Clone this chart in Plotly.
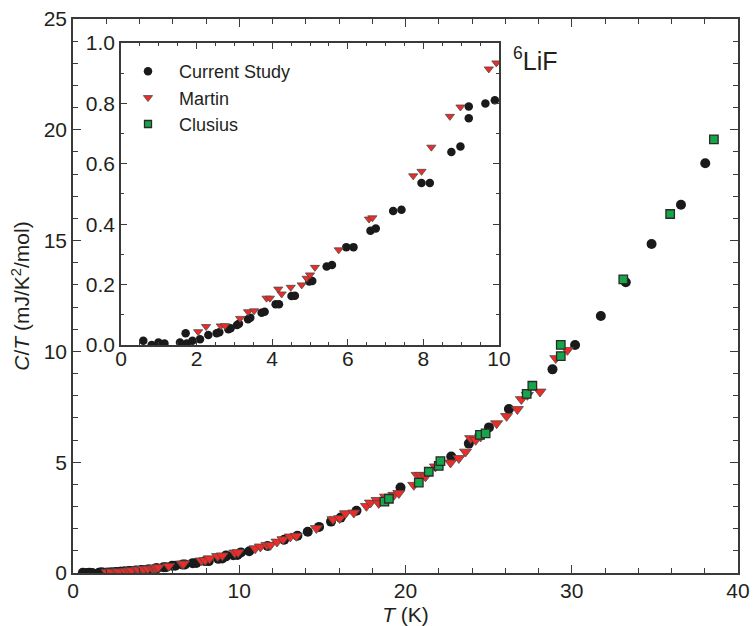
import numpy as np
import plotly.graph_objects as go

# ---- data: C/T (mJ/K^2/mol) versus T (K) for 6LiF ----
cur_T = [0.59, 0.81, 0.99, 1.15, 1.56, 1.71, 1.74, 1.89, 2.09, 2.31, 2.53, 2.60,
         2.84, 2.90, 3.07, 3.12, 3.36, 3.42, 3.72, 3.80, 4.09, 4.18, 4.51, 4.60,
         4.98, 5.06, 5.44, 5.58, 5.96, 6.15, 6.60, 6.74, 7.20, 7.42, 7.95, 8.17,
         8.74, 8.98, 9.20, 9.20, 9.64, 9.89,
         10.10, 10.60, 11.70, 12.70, 13.50, 14.12, 14.80, 15.52, 16.10, 17.05,
         19.70, 22.75, 23.81, 25.02, 26.22, 28.84, 30.20, 31.75, 33.25, 34.80,
         36.57, 38.03]
cur_C = [0.014, 0.000, 0.008, 0.005, 0.008, 0.039, 0.005, 0.014, 0.019, 0.033, 0.039, 0.042,
         0.052, 0.055, 0.066, 0.070, 0.085, 0.090, 0.107, 0.110, 0.135, 0.135, 0.162, 0.163,
         0.210, 0.212, 0.260, 0.265, 0.324, 0.324, 0.378, 0.386, 0.444, 0.448, 0.536, 0.536,
         0.639, 0.657, 0.790, 0.751, 0.800, 0.810,
         0.93, 0.98, 1.22, 1.50, 1.68, 1.86, 2.08, 2.32, 2.50, 2.81,
         3.86, 5.26, 5.84, 6.57, 7.40, 9.19, 10.29, 11.60, 13.12, 14.85,
         16.62, 18.49]

martin_T = [2.04, 2.25, 2.64, 2.75, 3.15, 3.36, 3.52, 3.85, 3.94, 4.16, 4.25, 4.49,
            4.78, 4.91, 5.00, 5.13, 5.76, 6.56, 6.65, 7.73, 7.95, 8.21, 8.70, 8.98,
            9.73, 9.93,
            10.96, 11.27, 11.67, 11.87, 12.27, 12.63, 13.07, 13.43, 14.64, 15.64,
            16.04, 16.39, 16.89, 17.65, 17.89, 18.29, 18.39, 18.80, 19.30, 19.60,
            20.50, 20.70, 20.90, 21.20, 21.80, 22.71, 23.21, 23.61, 23.92, 24.22,
            24.52, 25.48, 26.08, 26.73, 26.97, 27.33, 28.09, 29.04, 29.74]
martin_C = [0.044, 0.061, 0.063, 0.064, 0.088, 0.110, 0.113, 0.155, 0.155, 0.185, 0.169, 0.191,
            0.199, 0.221, 0.232, 0.257, 0.315, 0.417, 0.421, 0.560, 0.575, 0.655, 0.757, 0.788,
            0.914, 0.934,
            1.11, 1.19, 1.26, 1.26, 1.41, 1.52, 1.64, 1.67, 2.02, 2.42,
            2.47, 2.69, 2.72, 3.02, 3.17, 3.29, 3.15, 3.44, 3.52, 3.60,
            3.97, 4.42, 4.42, 4.35, 4.80, 4.98, 5.18, 5.47, 6.08, 6.00,
            6.15, 6.75, 7.08, 7.39, 7.84, 8.03, 8.18, 9.69, 10.06]

clusius_T = [18.73, 19.00, 20.80, 21.40, 22.00, 22.10, 24.48, 24.82, 27.29, 27.63,
             29.34, 29.34, 33.10, 35.92, 38.55]
clusius_C = [3.22, 3.35, 4.08, 4.57, 4.83, 5.05, 6.23, 6.30, 8.08, 8.45,
             9.79, 10.29, 13.25, 16.20, 19.57]

series_names = ["Current Study", "Martin", "Clusius"]

FONT = "Liberation Sans, Arial, sans-serif"
INK = "#231f20"
RED = "#ee2b26"
GREEN = "#17a54a"
BLACK = "#1a1a1a"


def low_T(T, C, limit=10.0):
    T = np.asarray(T)
    C = np.asarray(C)
    keep = T <= limit
    return T[keep], C[keep]


styles = [
    dict(symbol="circle", color=BLACK, line=dict(width=0)),
    dict(symbol="triangle-down", color=RED, line=dict(width=0.8, color="#4a4a4a")),
    dict(symbol="square", color=GREEN, line=dict(width=1.3, color="#2a2a2a")),
]
main_sizes = [10, 10.5, 8.5]
inset_sizes = [8.5, 8, 7]
datasets = [(cur_T, cur_C), (martin_T, martin_C), (clusius_T, clusius_C)]

fig = go.Figure()

# full temperature range on the main axes
for name, (T, C), st, sz in zip(series_names, datasets, styles, main_sizes):
    fig.add_trace(go.Scatter(
        x=T, y=C, mode="markers", name=name, showlegend=False,
        marker=dict(size=sz, **st), xaxis="x", yaxis="y"))

# low-temperature detail on the inset axes (carries the legend)
for name, (T, C), st, sz in zip(series_names, datasets, styles, inset_sizes):
    t, c = low_T(T, C)
    if len(t) == 0:
        t, c = [None], [None]
    fig.add_trace(go.Scatter(
        x=t, y=c, mode="markers", name=name, showlegend=True,
        marker=dict(size=sz, **st), xaxis="x2", yaxis="y2"))

axis_common = dict(
    showline=True, linecolor="#3a3a3a", linewidth=1.5, mirror="ticks",
    ticks="inside", tickcolor="#3a3a3a", showgrid=False, zeroline=False,
    automargin=False,
    tickfont=dict(family=FONT, size=21, color=INK),
)

fig.update_layout(
    width=753, height=626,
    margin=dict(l=73, r=15, t=19, b=53),
    paper_bgcolor="white", plot_bgcolor="white",
    font=dict(family=FONT, color=INK),
    xaxis=dict(
        range=[0, 40], dtick=10, tick0=0, ticklen=8, tickwidth=1.3,
        ticklabelstandoff=-2,
        minor=dict(dtick=2, ticks="inside", ticklen=5, tickcolor="#3a3a3a", tickwidth=1),
        title=dict(text="<i>T</i> (K)", font=dict(family=FONT, size=21, color=INK), standoff=6),
        **axis_common),
    yaxis=dict(
        range=[0, 25], dtick=5, tick0=0, ticklen=8, tickwidth=1.3,
        minor=dict(dtick=1, ticks="inside", ticklen=5, tickcolor="#3a3a3a", tickwidth=1),
        title=dict(text="<i>C</i>/<i>T</i> (mJ/K<sup>2</sup>/mol)",
                   font=dict(family=FONT, size=21, color=INK), standoff=8),
        **axis_common),
    xaxis2=dict(
        domain=[0.0722, 0.6406], anchor="y2", range=[0, 10], dtick=2, tick0=0,
        ticklen=6, tickwidth=1.2, ticklabelstandoff=-6,
        minor=dict(dtick=0.5, ticks="inside", ticklen=3.5, tickcolor="#3a3a3a", tickwidth=1),
        **axis_common),
    yaxis2=dict(
        domain=[0.4116, 0.9567], anchor="x2", range=[0, 1.0], dtick=0.2, tick0=0,
        tickformat=".1f", ticklen=6, tickwidth=1.2,
        minor=dict(dtick=0.1, ticks="inside", ticklen=3.5, tickcolor="#3a3a3a", tickwidth=1),
        **axis_common),
    legend=dict(
        x=(117 - 73) / 665, y=(573 - 53) / 554, xanchor="left", yanchor="top",
        bgcolor="rgba(0,0,0,0)", itemwidth=52,
        font=dict(family=FONT, size=18, color=INK),
        tracegroupgap=0,
    ),
    annotations=[dict(
        text="<sup>6</sup>LiF", x=(511 - 73) / 665, y=(573 - 77) / 554,
        xref="paper", yref="paper", xanchor="left", yanchor="bottom",
        showarrow=False, font=dict(family=FONT, size=25, color=INK))],
)

fig.write_html("out.html")
